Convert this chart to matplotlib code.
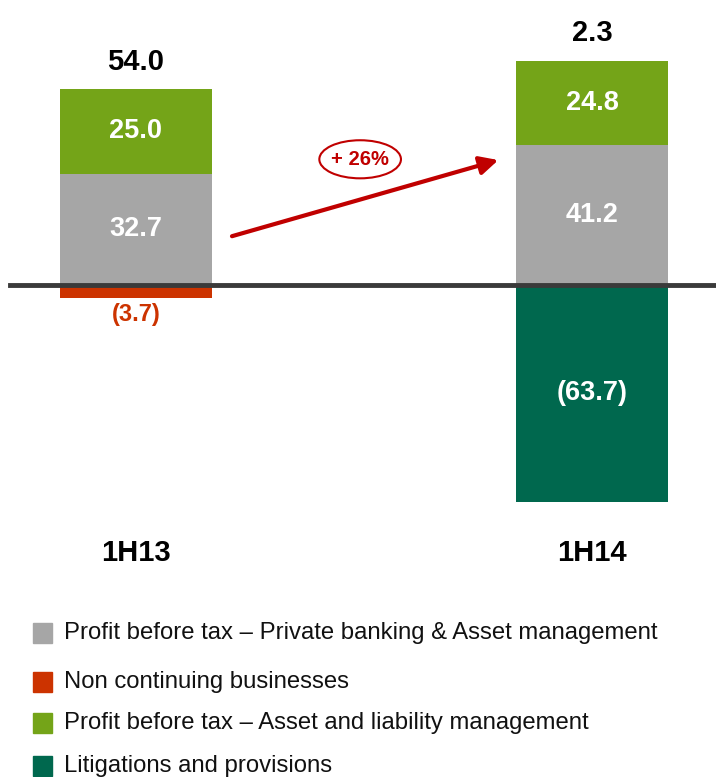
import numpy as np
import matplotlib
matplotlib.use('Agg')
import matplotlib.pyplot as plt
from matplotlib.patches import Ellipse

plt.rcParams['font.family'] = ['Liberation Sans', 'DejaVu Sans']

periods = ['1H13', '1H14']
private_banking = [32.7, 41.2]
non_continuing = [-3.7, 0.0]
asset_liability = [25.0, 24.8]
litigations = [0.0, -63.7]
totals = [54.0, 2.3]

series_names = ['Profit before tax \u2013 Private banking & Asset management',
                'Non continuing businesses',
                'Profit before tax \u2013 Asset and liability management',
                'Litigations and provisions']
colors = ['#a6a6a6', '#cc3300', '#74a418', '#00684e']

fig = plt.figure(figsize=(7.16, 7.77), dpi=100)
ax = fig.add_axes([0, 0, 1, 1])

x = np.arange(len(periods))
w = 0.333

ax.bar(x, private_banking, w, color=colors[0])
ax.bar(x, asset_liability, w, bottom=private_banking, color=colors[2])
ax.bar(x, non_continuing, w, color=colors[1])
ax.bar(x, litigations, w, color=colors[3])

def fmt(v):
    return '(%.1f)' % abs(v) if v < 0 else '%.1f' % v

for i in range(len(periods)):
    ax.text(x[i], private_banking[i] / 2, fmt(private_banking[i]),
            ha='center', va='center', color='white', fontsize=19.5,
            fontweight='bold')
    ax.text(x[i], private_banking[i] + asset_liability[i] / 2,
            fmt(asset_liability[i]), ha='center', va='center',
            color='white', fontsize=19.5, fontweight='bold')
    if non_continuing[i] != 0:
        ax.text(x[i], non_continuing[i] - 1.5, fmt(non_continuing[i]),
                ha='center', va='top', color=colors[1], fontsize=17,
                fontweight='bold')
    if litigations[i] != 0:
        ax.text(x[i], litigations[i] / 2, fmt(litigations[i]),
                ha='center', va='center', color='white', fontsize=19.5,
                fontweight='bold')
    top = private_banking[i] + asset_liability[i]
    ax.text(x[i], top + 8, fmt(totals[i]), ha='center', va='center',
            fontsize=21, fontweight='bold', color='black')

ax.axhline(0, xmin=10 / 716, xmax=1, color='#3a3a3a', lw=3.5, zorder=5)

ax.set_xlim(-0.298, 1.272)
ax.set_ylim(-144.7, 83.8)
ax.axis('off')

# category labels
for i, p in enumerate(periods):
    ax.text(x[i], -78.8, p, ha='center', va='center', fontsize=21,
            fontweight='bold')

# growth arrow
ax.annotate('', xy=(0.696, 0.794), xytext=(0.324, 0.696),
            xycoords='axes fraction',
            arrowprops=dict(arrowstyle='-|>,head_length=1.1,head_width=0.55',
                            color='#c00000', lw=3, shrinkA=0, shrinkB=0))
ax.add_patch(Ellipse((0.503, 0.795), 0.114, 0.049, transform=ax.transAxes,
                     fill=False, edgecolor='#c00000', lw=1.5))
ax.text(0.503, 0.795, '+ 26%', transform=ax.transAxes, ha='center',
        va='center', fontsize=14.5, fontweight='bold', color='#c00000')

# legend
leg_y = [633, 682, 723, 766]
for name, c, yp in zip(series_names, colors, leg_y):
    yf = 1 - yp / 777
    fig.patches.append(plt.Rectangle((33 / 716, yf - 10 / 777), 19 / 716, 20 / 777,
                                     transform=fig.transFigure, color=c))
    fig.text(64 / 716, yf, name, ha='left', va='center', fontsize=17.2,
             color='#111111')

fig.savefig('out.png', dpi=100)
